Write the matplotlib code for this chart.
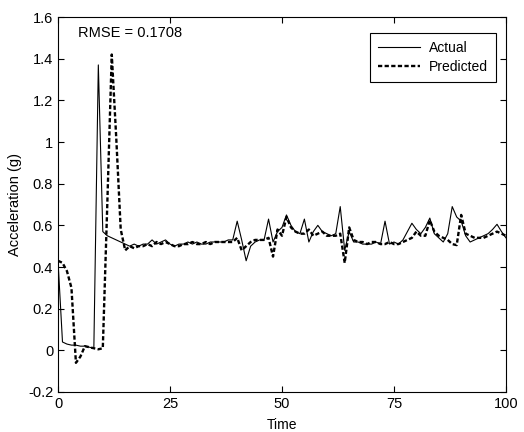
import matplotlib
matplotlib.use("Agg")
import matplotlib.pyplot as plt
import numpy as np

plt.rcParams['font.family'] = ['Liberation Sans', 'DejaVu Sans']

time = np.arange(0, 101)

actual = [0.43, 0.04, 0.03, 0.025, 0.025, 0.02, 0.02, 0.015, 0.01, 1.37,
          0.57, 0.55, 0.54, 0.53, 0.52, 0.51, 0.50, 0.51, 0.50, 0.51,
          0.51, 0.53, 0.51, 0.52, 0.53, 0.51, 0.50, 0.51, 0.51, 0.52,
          0.51, 0.52, 0.51, 0.51, 0.52, 0.52, 0.52, 0.52, 0.53, 0.53,
          0.62, 0.53, 0.43, 0.50, 0.52, 0.53, 0.53, 0.63, 0.52, 0.57,
          0.59, 0.65, 0.60, 0.57, 0.56, 0.63, 0.52, 0.57, 0.60, 0.57,
          0.56, 0.55, 0.56, 0.69, 0.48, 0.57, 0.52, 0.52, 0.51, 0.51,
          0.51, 0.52, 0.51, 0.62, 0.51, 0.52, 0.51, 0.53, 0.57, 0.61,
          0.58, 0.56, 0.59, 0.635, 0.56, 0.54, 0.52, 0.56, 0.69, 0.64,
          0.62, 0.55, 0.52, 0.53, 0.54, 0.55, 0.56, 0.58, 0.605, 0.57,
          0.54]

predicted = [0.43, 0.42, 0.38, 0.30, -0.06, -0.03, 0.02, 0.015, 0.01, 0.005,
             0.01, 0.70, 1.42, 1.02, 0.58, 0.48, 0.50, 0.49, 0.50, 0.50,
             0.51, 0.50, 0.52, 0.51, 0.52, 0.51, 0.50, 0.50, 0.51, 0.51,
             0.52, 0.51, 0.51, 0.52, 0.51, 0.52, 0.52, 0.52, 0.52, 0.52,
             0.54, 0.48, 0.50, 0.52, 0.53, 0.53, 0.53, 0.54, 0.45, 0.58,
             0.55, 0.64, 0.59, 0.57, 0.56, 0.56, 0.58, 0.55, 0.56, 0.57,
             0.55, 0.55, 0.55, 0.56, 0.42, 0.59, 0.53, 0.52, 0.52, 0.51,
             0.52, 0.52, 0.51, 0.51, 0.52, 0.51, 0.51, 0.52, 0.53, 0.54,
             0.57, 0.55, 0.55, 0.625, 0.57, 0.55, 0.54, 0.53, 0.51, 0.505,
             0.65, 0.56, 0.55, 0.54, 0.54, 0.54, 0.55, 0.56, 0.57, 0.56,
             0.55]

xticks = [0, 25, 50, 75, 100]
yticks = [-0.2, 0, 0.2, 0.4, 0.6, 0.8, 1, 1.2, 1.4, 1.6]
rmse_text = "RMSE = 0.1708"

fig = plt.figure(figsize=(5.24, 4.32), dpi=100)
ax = fig.add_axes([0.1107, 0.0926, 0.8549, 0.868])

ax.plot(time, actual, color="black", lw=0.8, label="Actual")
ax.plot(time, predicted, color="black", lw=1.7, linestyle=(0, (1.8, 1.0)),
        label="Predicted")

ax.set_xlim(0, 100)
ax.set_ylim(-0.2, 1.6)
ax.set_xticks(xticks)
ax.set_yticks(yticks)
ax.set_yticklabels([f"{v:g}" for v in yticks])
ax.tick_params(direction="in", top=True, right=True, length=4,
               labelsize=10.5, width=0.8)
for s in ax.spines.values():
    s.set_linewidth(0.8)

ax.set_xlabel("Time", fontsize=10, labelpad=5)
ax.set_ylabel("Acceleration (g)", fontsize=10.5)

ax.text(0.045, 0.958, rmse_text, transform=ax.transAxes, fontsize=10.5,
        ha="left", va="center")

leg = ax.legend(loc="upper right", bbox_to_anchor=(0.9777, 0.957),
                borderaxespad=0, fancybox=False, edgecolor="black",
                fontsize=10, handlelength=3.0, framealpha=1,
                labelspacing=0.4, borderpad=0.55, handletextpad=0.7)
leg.get_frame().set_linewidth(0.8)

fig.savefig("out.png", dpi=100)
